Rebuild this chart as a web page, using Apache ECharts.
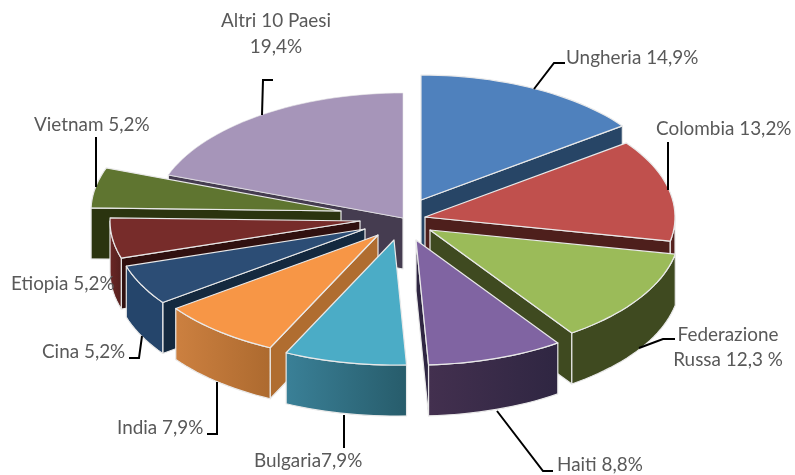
<!DOCTYPE html>
<html><head><meta charset="utf-8">
<style>html,body{margin:0;padding:0;background:#fff}#c{width:795px;height:475px}</style>
<script src="https://cdn.jsdelivr.net/npm/echarts@6/dist/echarts.min.js"></script>
</head><body><div id="c"></div>
<script>
const categories = ['Ungheria','Colombia','Federazione Russa','Haiti','Bulgaria','India','Cina','Etiopia','Vietnam','Altri 10 Paesi'];
const values = [14.9,13.2,12.3,8.8,7.9,7.9,5.2,5.2,5.2,19.4];
const labelLines = [['Ungheria 14,9%'],['Colombia 13,2%'],['Federazione','Russa 12,3 %'],['Haiti 8,8%'],['Bulgaria7,9%'],['India 7,9%'],['Cina 5,2%'],['Etiopia 5,2%'],['Vietnam 5,2%'],['Altri 10 Paesi','19,4%']];
// styling and layout (not data)
const topColors = ['#4f81bd','#c0504d','#9bbb59','#8064a2','#4bacc6','#f79646','#2c4d75','#772c2a','#5f7530','#a695b9'];
const wallColors = ['#274566','#4e1f1c','#3f4a20','#2f2642','#2a6172','#b06d30','#14293f','#30100f','#2b340f','#453c50'];
const rimFrom = ['#274566','#5e2523','#3f4a20','#43304f','#3a8097','#cc8040','#25456b','#6a2725','#2b340f','#453c50'];
const rimTo   = ['#274566','#4e1f1c','#3f4a20','#2f2642','#275c6b','#ad6a2f','#25456b','#55201e','#2b340f','#453c50'];
const pullX = [9,13,18,4,-18,-34,-47,-52,-71,-9];
const pullY = [-22,-5,8,18,18,13,7,-1,-11,-4];
const labelX = [566,656,728,557,254,117,42,11,34,276];
const labelY = [58,129,335,465,461,428,352,284,125,21];
const labelAlign = ['left','left','center','left','left','left','left','left','left','center'];
const leaders = [
 [[534,89],[554,63],[565,63]],
 [[668,190],[668,142]],
 [[639,348],[663,339],[675,339]],
 [[497,411],[543,471],[553,471]],
 [[344,415],[344,448]],
 [[217,382],[217,434],[207,434]],
 [[142,336],[139,358],[129,358]],
 [],
 [[96,187],[96,137]],
 [[262,115],[263,80],[273,80]]
];
const CX=412, CY=222, RX=250, RY=125, H=51, LINE_H=26;
const total = values.reduce((a,b)=>a+b,0);
const starts = []; let acc=0;
values.forEach(v=>{starts.push(acc/total*360); acc+=v;});
const rad = d=>d*Math.PI/180;
const order = values.map((v,i)=>i).sort((a,b)=>Math.cos(rad(starts[b]+values[b]/total*180))-Math.cos(rad(starts[a]+values[a]/total*180)));
const STROKE = '#e9e9e9';

function renderSlice(params, api){
  const i = api.value(0), v = api.value(1);
  const s = starts[i], e = s + v/total*360;
  const ax = CX+pullX[i], ay = CY+pullY[i];
  const pt = (t,dy=0)=>[ax+RX*Math.sin(rad(t)), ay-RY*Math.cos(rad(t))+dy];
  const arc = (a,b,dy=0)=>{const n=Math.max(2,Math.ceil((b-a)/2)),o=[];for(let k=0;k<=n;k++)o.push(pt(a+(b-a)*k/n,dy));return o;};
  const kids=[];
  const poly=(points,fill,lw)=>kids.push({type:'polygon',shape:{points},style:{fill,stroke:STROKE,lineWidth:lw===undefined?1.2:lw,lineJoin:'round'}});
  if(Math.sin(rad(s))<0) poly([[ax,ay],pt(s),pt(s,H),[ax,ay+H]],wallColors[i]);
  if(Math.sin(rad(e))>0) poly([[ax,ay],pt(e),pt(e,H),[ax,ay+H]],wallColors[i]);
  const a=Math.max(s,90), b=Math.min(e,270);
  if(b>a){
    const up=arc(a,b), dn=arc(a,b,H).reverse();
    const xs=up.map(p=>p[0]);
    const x0=Math.min(...xs), x1=Math.max(...xs);
    poly(up.concat(dn), new echarts.graphic.LinearGradient(x0,0,x1,0,[{offset:0,color:rimFrom[i]},{offset:1,color:rimTo[i]}],true));
  }
  poly([[ax,ay]].concat(arc(s,e)),topColors[i], i===9?0.6:1.2);
  return {type:'group',children:kids};
}
function renderLabel(params, api){
  const i = api.value(0);
  const kids=[];
  if(leaders[i].length) kids.push({type:'polyline',shape:{points:leaders[i]},style:{fill:'none',stroke:'#000',lineWidth:2}});
  labelLines[i].forEach((t,k)=>kids.push({type:'text',style:{text:t,x:labelX[i],y:labelY[i]+k*(i===2?25:LINE_H),align:labelAlign[i],verticalAlign:'middle',fill:'#595959',font:'18.9px Lato'}}));
  return {type:'group',children:kids};
}
const chart = echarts.init(document.getElementById('c'),null,{renderer:'canvas'});
chart.setOption({
  animation:false,
  backgroundColor:'#fff',
  xAxis:{show:false},yAxis:{show:false},
  series:[
    {type:'custom',name:'Paesi',coordinateSystem:'none',silent:true,clip:false,z:2,renderItem:renderSlice,data:order.map(i=>[i,values[i],categories[i]])},
    {type:'custom',name:'Etichette',coordinateSystem:'none',silent:true,clip:false,z:3,renderItem:renderLabel,data:values.map((v,i)=>[i,v,categories[i]])}
  ]
});
</script></body></html>
